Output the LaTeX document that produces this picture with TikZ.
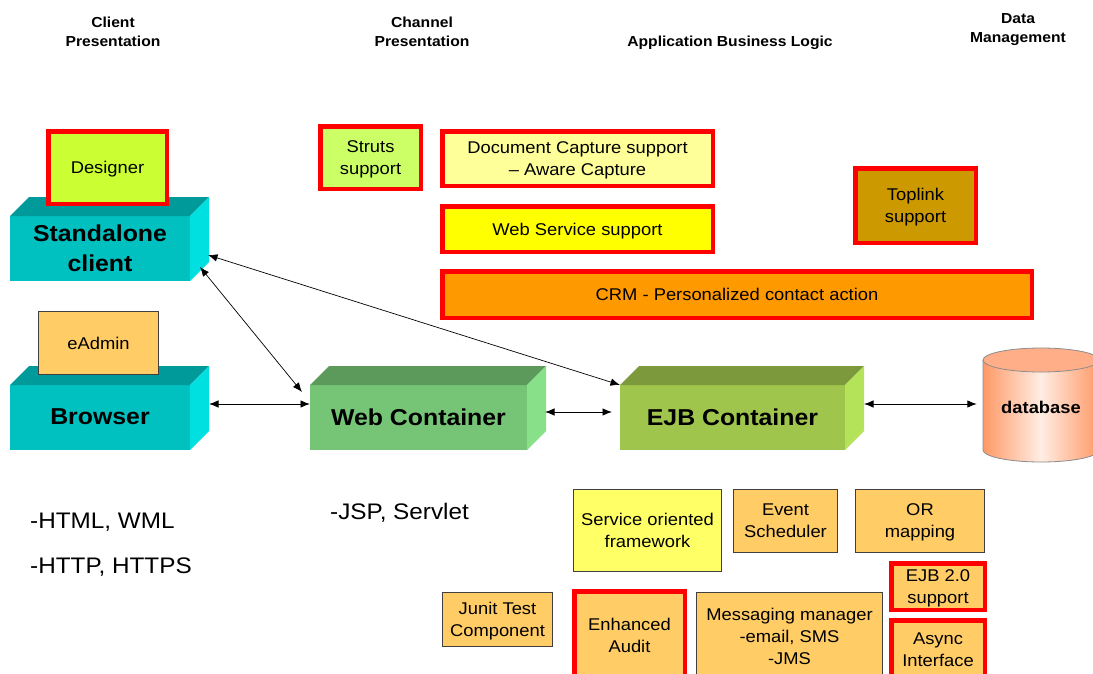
\documentclass[tikz,border=0pt]{standalone}
\usepackage{fontspec}
\setmainfont{Liberation Sans}[FakeStretch=1.08]
\usetikzlibrary{arrows.meta,calc}
\definecolor{tealF}{HTML}{00C0C0}
\definecolor{tealT}{HTML}{009A9A}
\definecolor{tealS}{HTML}{00E0E0}
\definecolor{webF}{HTML}{76C476}
\definecolor{webT}{HTML}{5C9A5C}
\definecolor{webS}{HTML}{88E088}
\definecolor{ejbF}{HTML}{A0C54C}
\definecolor{ejbT}{HTML}{7C9A3C}
\definecolor{ejbS}{HTML}{B4E35A}
\definecolor{desgc}{HTML}{CCFF33}
\definecolor{strutsc}{HTML}{CCFF66}
\definecolor{docc}{HTML}{FFFF99}
\definecolor{wsc}{HTML}{FFFF00}
\definecolor{crmc}{HTML}{FF9900}
\definecolor{topc}{HTML}{CC9900}
\definecolor{orng}{HTML}{FFCC66}
\definecolor{sofc}{HTML}{FFFF66}
\definecolor{dbedge}{HTML}{FF9966}
\definecolor{dbmid}{HTML}{FFEDE4}
\definecolor{dbtop}{HTML}{FFAE88}
\newcommand\myboxfont{\fontsize{17}{22}\selectfont}
\newcommand\myhdrfont{\bfseries\fontsize{14.5}{19}\selectfont}
\newcommand\mybigfont{\bfseries\fontsize{23}{30}\selectfont}
\newcommand\myfreefont{\fontsize{22.5}{28}\selectfont}
\newcommand\mycube[3]{%
  \fill[#2] (#1.north west) -- ([shift={(19pt,19pt)}]#1.north west) -- ([shift={(19pt,19pt)}]#1.north east) -- (#1.north east) -- cycle;
  \fill[#3] (#1.north east) -- ([shift={(19pt,19pt)}]#1.north east) -- ([shift={(19pt,19pt)}]#1.south east) -- (#1.south east) -- cycle;}
\begin{document}
\begin{tikzpicture}[x=1pt,y=-1pt,
  redbox/.style={draw=red, line width=4.5pt, align=center, font=\myboxfont, inner sep=0pt, text depth=-1.5pt},
  thinbox/.style={draw=black!75, line width=1pt, fill=orng, align=center, font=\myboxfont, inner sep=0pt, text depth=-1.5pt},
  front/.style={inner sep=0pt, outer sep=0pt, align=center, font=\mybigfont, minimum height=65, text depth=1pt},
  hdr/.style={align=center, font=\myhdrfont, inner sep=0pt},
  freetext/.style={anchor=west, font=\myfreefont, inner sep=0pt},
  conn/.style={{Latex[length=9.5pt,width=7.5pt]}-{Latex[length=9.5pt,width=7.5pt]}, line width=0.9pt},
]
\useasboundingbox (0,0) rectangle (1093,673);
\fill[white] (0,0) rectangle (1093,673);
\clip (0,0) rectangle (1093,673);

% headers
\node[hdr] (h1) at (113,32) {Client\\Presentation};
\node[hdr] (h2) at (422,32) {Channel\\Presentation};
\node[hdr] (h3) at (730,43) {Application Business Logic};
\node[hdr] (h4) at (1018,30) {Data\\Management};

% 3D boxes
\node[front, fill=tealF, minimum width=180] (sa) at (100,248.5) {Standalone\\client};
\mycube{sa}{tealT}{tealS}
\node[front, fill=tealF, minimum width=180] (br) at (100,417.5) {Browser};
\mycube{br}{tealT}{tealS}
\node[front, fill=webF, minimum width=217] (wc) at (418.5,417.5) {Web Container};
\mycube{wc}{webT}{webS}
\node[front, fill=ejbF, minimum width=225] (ejb) at (732.5,417.5) {EJB Container};
\mycube{ejb}{ejbT}{ejbS}

% database cylinder
\shade[left color=dbedge, right color=dbedge, middle color=dbmid]
  (983,360) -- (983,450) arc[start angle=180, end angle=0, x radius=58, y radius=12] -- (1099,360) -- cycle;
\draw[black!45, line width=0.8pt] (983,360) -- (983,450) arc[start angle=180, end angle=0, x radius=58, y radius=12] -- (1099,360);
\filldraw[fill=dbtop, draw=black!45, line width=0.8pt] (1041,360) ellipse[x radius=58, y radius=12];
\node[inner sep=0pt, minimum width=116, minimum height=90, font=\bfseries\fontsize{17}{22}\selectfont] (db) at (1041,407) {database};

% client extras
\node[redbox, fill=desgc, minimum width=118.5, minimum height=72.5] (des) at (107.5,167.5) {Designer};
\node[thinbox, minimum width=120, minimum height=63] (ead) at (98.5,343) {eAdmin};

% top feature boxes
\node[redbox, fill=strutsc, minimum width=100.5, minimum height=62.5] (str) at (370.5,157.5) {Struts\\support};
\node[redbox, fill=docc, minimum width=270.5, minimum height=54.5] (doc) at (577.5,158.5) {Document Capture support\\– Aware Capture};
\node[redbox, fill=wsc, minimum width=270.5, minimum height=45.5] (ws) at (577.5,229) {Web Service support};
\node[redbox, fill=crmc, minimum width=589.5, minimum height=46.5] (crm) at (737,294.5) {CRM - Personalized contact action};
\node[redbox, fill=topc, minimum width=120.5, minimum height=74.5] (tl) at (915.5,205.5) {Toplink\\support};

% bottom boxes
\node[thinbox, fill=sofc, minimum width=148, minimum height=82] (sof) at (647.5,530.5) {Service oriented\\framework};
\node[thinbox, minimum width=104, minimum height=63] (ev) at (785.5,521) {Event\\Scheduler};
\node[thinbox, minimum width=129, minimum height=63] (orm) at (920,521) {OR\\mapping};
\node[redbox, fill=orng, minimum width=93.5, minimum height=46.5] (ejb2) at (938,586.5) {EJB 2.0\\support};
\node[redbox, fill=orng, minimum width=93.5, minimum height=59.5] (async) at (938,650) {Async\\Interface};
\node[thinbox, minimum width=110, minimum height=54] (junit) at (497.5,619.5) {Junit Test\\Component};
\node[redbox, fill=orng, minimum width=110.5, minimum height=87.5] (audit) at (629.5,635) {Enhanced\\Audit};
\node[thinbox, minimum width=186, minimum height=87] (msg) at (789.5,636) {Messaging manager\\-email, SMS\\-JMS};

% free text
\node[freetext] (t1) at (30,522) {-HTML, WML};
\node[freetext] (t2) at (30,567) {-HTTP, HTTPS};
\node[freetext] (t3) at (330,513) {-JSP, Servlet};

% connectors
\draw[conn] ([xshift=19pt,yshift=13.5pt]br.east) -- ([yshift=13.5pt]wc.west);
\draw[conn] ([xshift=18pt,yshift=5.5pt]wc.east) -- ([xshift=-8pt,yshift=5.5pt]ejb.west);
\draw[conn] ([xshift=19pt,yshift=13.5pt]ejb.east) -- ([xshift=-6pt,yshift=3pt]db.west);
\draw[conn, line width=0.7pt] ([xshift=10pt,yshift=14pt]sa.south east) -- ([xshift=-8pt,yshift=-7pt]wc.north west);
\draw[conn, line width=0.7pt] ([xshift=18pt,yshift=-6.5pt]sa.east) -- (ejb.north west);
\end{tikzpicture}
\end{document}
